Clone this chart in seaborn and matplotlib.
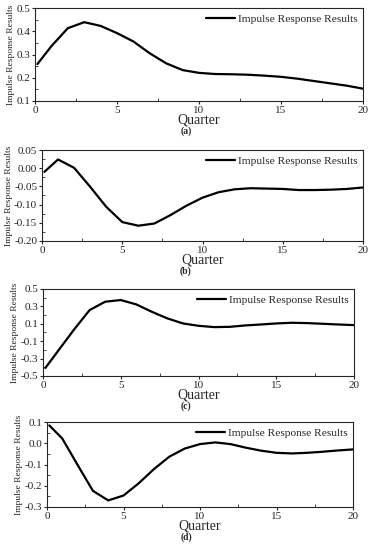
import numpy as np
import pandas as pd
import matplotlib
matplotlib.use("Agg")
import matplotlib.pyplot as plt
from matplotlib.ticker import MultipleLocator, FormatStrFormatter
import seaborn as sns

# quarters
quarter = [0.15] + list(range(1, 21))

resp_a = [0.259, 0.336, 0.413, 0.439, 0.423, 0.392, 0.356, 0.305, 0.262, 0.233, 0.221,
          0.216, 0.215, 0.213, 0.209, 0.204, 0.196, 0.186, 0.176, 0.166, 0.153]
resp_b = [-0.010, 0.024, 0.001, -0.051, -0.106, -0.148, -0.158, -0.152, -0.129, -0.103, -0.081,
          -0.066, -0.058, -0.055, -0.056, -0.057, -0.060, -0.060, -0.059, -0.057, -0.053]
resp_c = [-0.408, -0.204, 0.035, 0.258, 0.354, 0.373, 0.323, 0.238, 0.162, 0.104, 0.077,
          0.062, 0.065, 0.081, 0.092, 0.104, 0.112, 0.108, 0.100, 0.092, 0.085]
resp_d = [0.084, 0.022, -0.102, -0.224, -0.269, -0.246, -0.188, -0.121, -0.063, -0.025, -0.004,
          0.004, -0.004, -0.021, -0.035, -0.045, -0.048, -0.045, -0.040, -0.034, -0.029]

panel_tags = ["(a)", "(b)", "(c)", "(d)"]
yticks_list = [
    [0.1, 0.2, 0.3, 0.4, 0.5],
    [-0.20, -0.15, -0.10, -0.05, 0.00, 0.05],
    [-0.5, -0.3, -0.1, 0.1, 0.3, 0.5],
    [-0.3, -0.2, -0.1, 0.0, 0.1],
]

sns.set_style("ticks")
plt.rcParams['font.family'] = ['Liberation Serif', 'DejaVu Serif']

fig = plt.figure(figsize=(3.72, 5.5), dpi=100)
W, H = 372, 550
# axes boxes in pixels: left, top, right, bottom
boxes = [(35, 8, 363, 101), (42, 150, 363, 241), (43, 289, 354, 376), (47, 422, 353, 507)]
yfmts = ["%.1f", "%.2f", "%.1f", "%.1f"]

for i, resp in enumerate([resp_a, resp_b, resp_c, resp_d]):
    l, t, r, b = boxes[i]
    ax = fig.add_axes([l / W, 1 - b / H, (r - l) / W, (b - t) / H])
    df = pd.DataFrame({"Quarter": quarter, "Response": resp})
    sns.lineplot(data=df, x="Quarter", y="Response", ax=ax, color="black", lw=1.6,
                 label="Impulse Response Results")
    yt = yticks_list[i]
    ax.set_xlim(0, 20)
    ax.set_ylim(yt[0], yt[-1])
    ax.xaxis.set_major_locator(MultipleLocator(5))
    ax.xaxis.set_minor_locator(MultipleLocator(2.5))
    ax.set_yticks(yt)
    step = yt[1] - yt[0]
    ax.set_yticks(np.arange(yt[0], yt[-1] + 1e-9, step / 2), minor=True)
    ax.yaxis.set_major_formatter(FormatStrFormatter(yfmts[i]))
    ax.tick_params(which="major", direction="out", labelsize=8, length=2.5, width=0.8, pad=1)
    ax.tick_params(which="minor", direction="in", length=2, width=0.6)
    for s in ax.spines.values():
        s.set_linewidth(0.8)
    ax.set_xlabel("Quarter", fontsize=10, labelpad=-1)
    ax.set_ylabel("Impulse Response Results", fontsize=6.8, labelpad=1)
    ax.legend(loc="upper right", frameon=False, fontsize=8.2, handlelength=2.6,
              borderaxespad=0.1, handletextpad=0.2)
    fig.text(186 / W, 1 - (b + 30) / H, panel_tags[i], ha="center", va="center",
             fontsize=7, fontweight="bold")

fig.savefig("out.png", dpi=100)
